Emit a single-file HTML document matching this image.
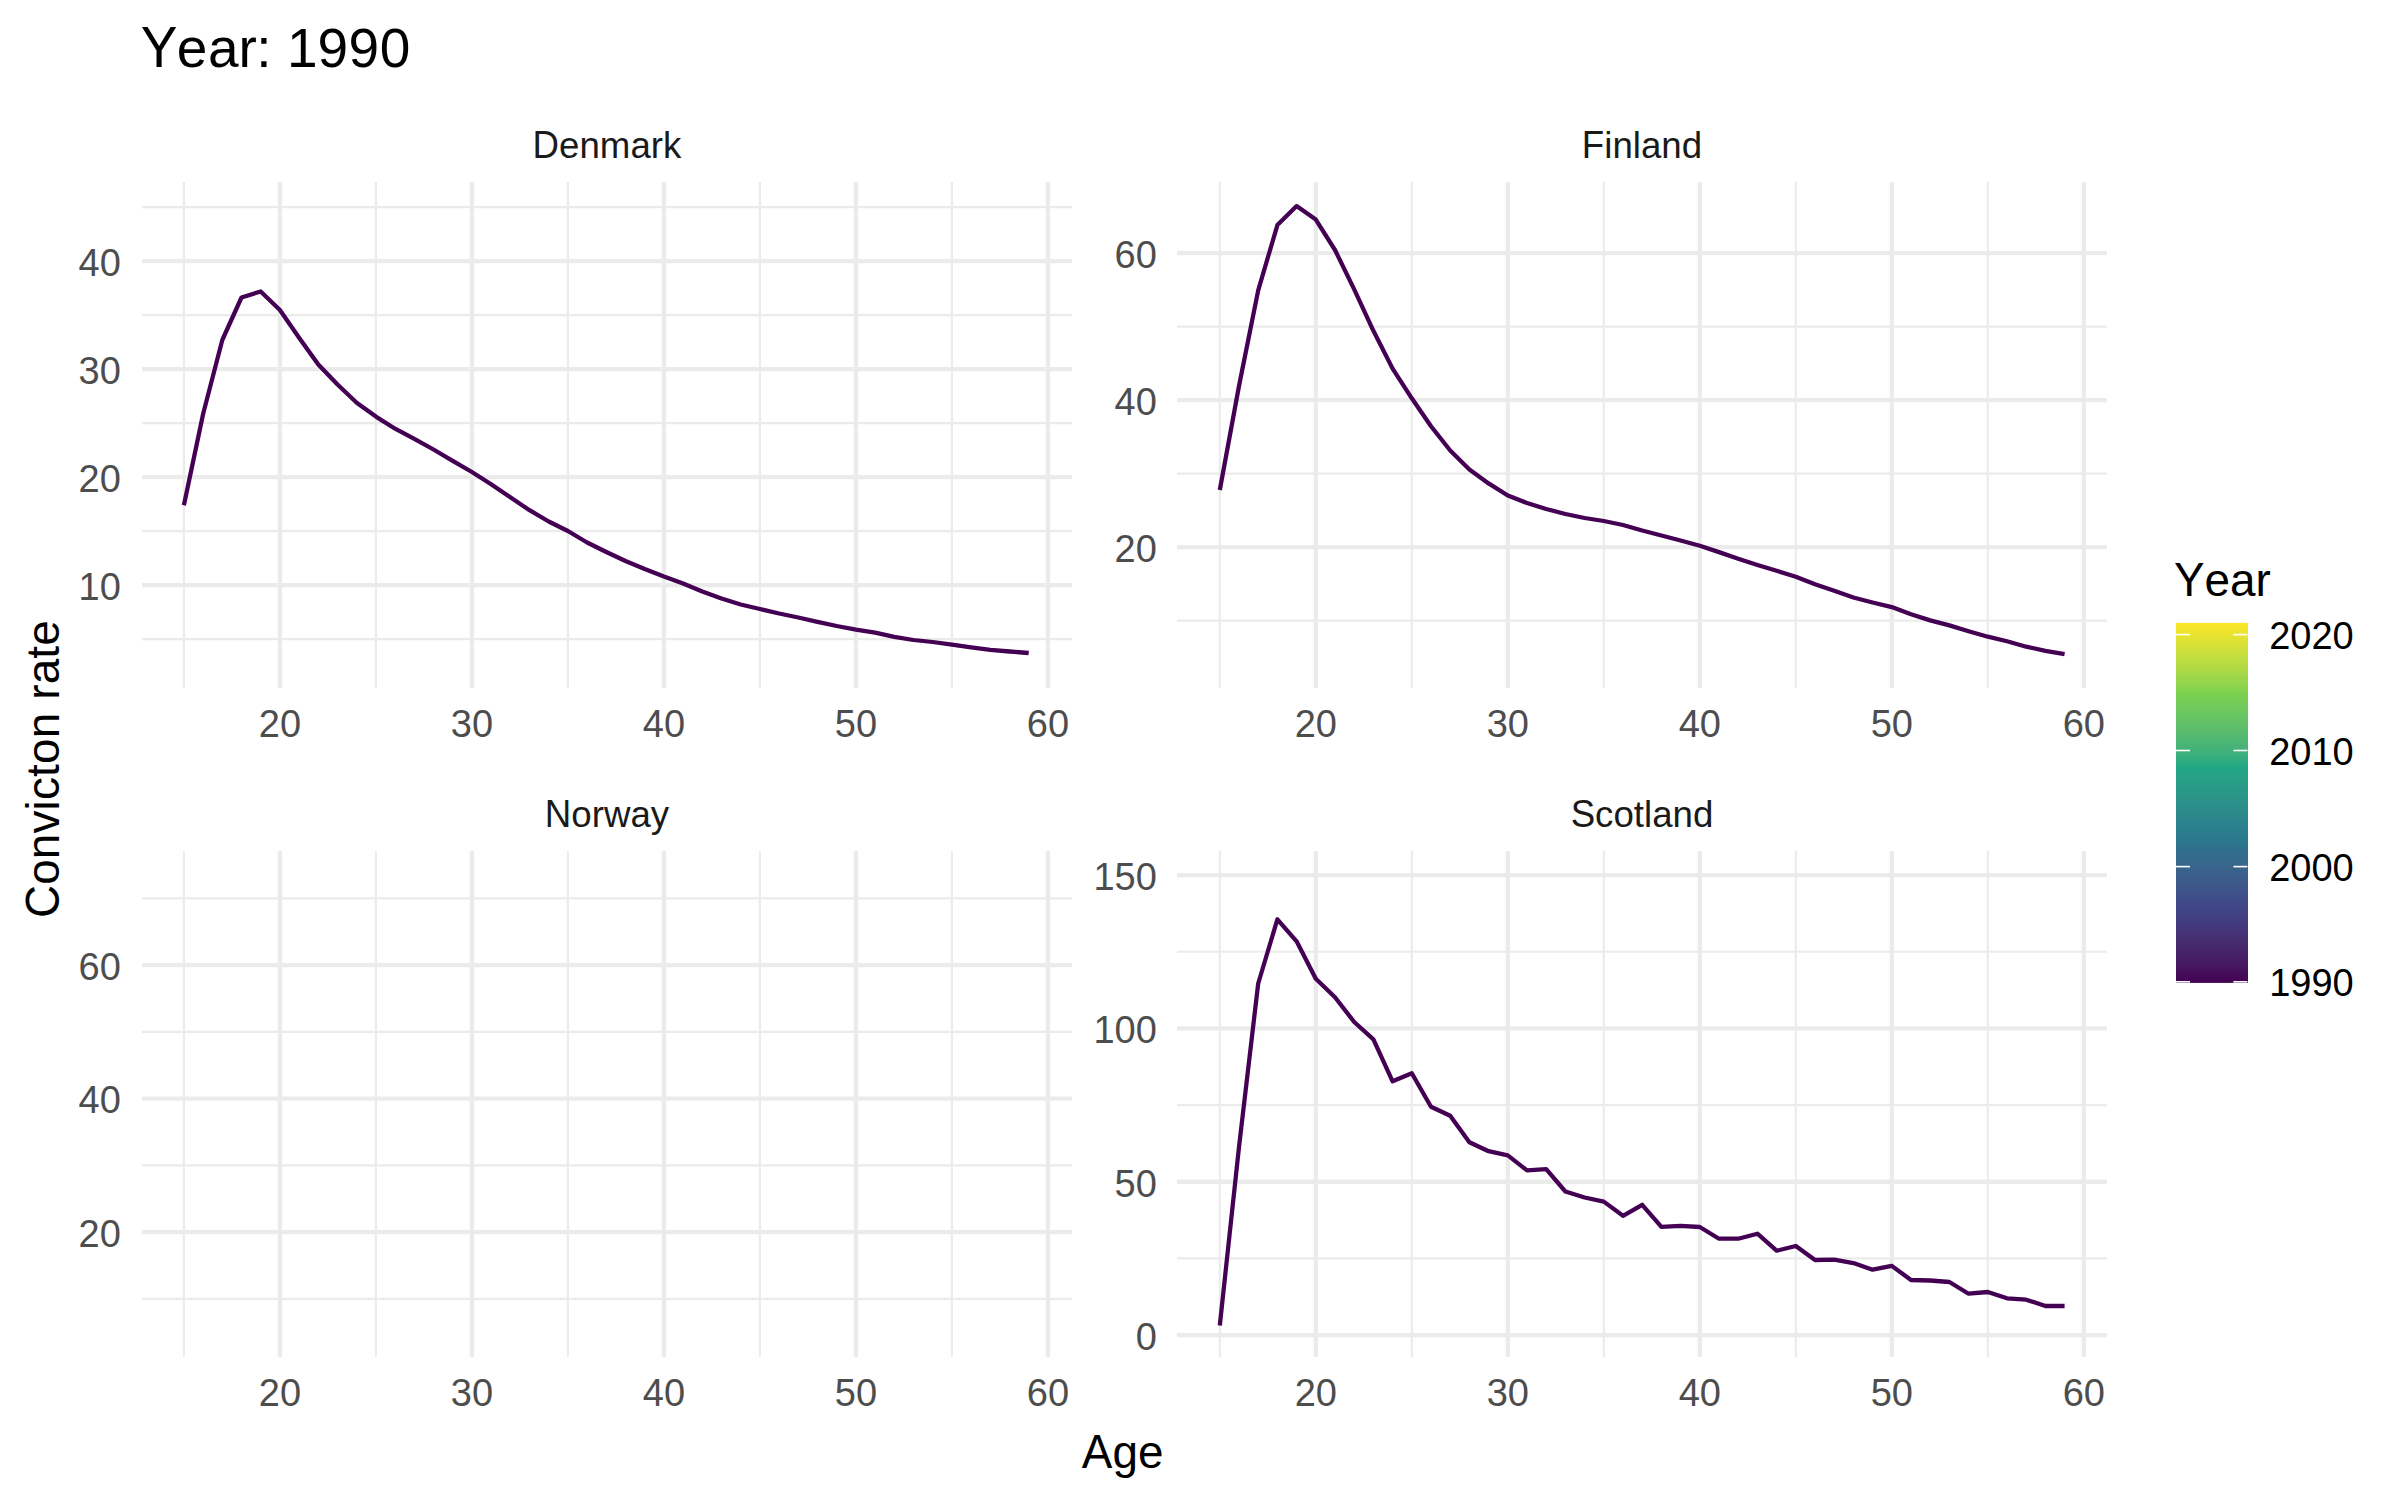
<!DOCTYPE html>
<html><head><meta charset="utf-8"><title>Year: 1990</title>
<style>html,body{margin:0;padding:0;background:#fff;}body{width:2400px;height:1500px;overflow:hidden;}svg{display:block;}text{font-family:"Liberation Sans",sans-serif;font-kerning:none;}.ax{font-size:38px;fill:#4D4D4D;}.st{font-size:36.67px;fill:#1A1A1A;}.lg{font-size:38px;fill:#000;}.tt{font-size:45.83px;fill:#000;}.ti{font-size:55px;fill:#000;}</style></head><body>
<svg width="2400" height="1500" viewBox="0 0 2400 1500">
<defs><linearGradient id="vir" x1="0" y1="1" x2="0" y2="0"><stop offset="0" stop-color="#440154"/><stop offset="0.01667" stop-color="#450958"/><stop offset="0.03333" stop-color="#45115C"/><stop offset="0.05" stop-color="#451860"/><stop offset="0.06667" stop-color="#461E65"/><stop offset="0.08333" stop-color="#462369"/><stop offset="0.1" stop-color="#46286D"/><stop offset="0.1167" stop-color="#452D71"/><stop offset="0.1333" stop-color="#453276"/><stop offset="0.15" stop-color="#44367A"/><stop offset="0.1667" stop-color="#433B7E"/><stop offset="0.1833" stop-color="#423F83"/><stop offset="0.2" stop-color="#414487"/><stop offset="0.2167" stop-color="#404888"/><stop offset="0.2333" stop-color="#404D88"/><stop offset="0.25" stop-color="#3F5189"/><stop offset="0.2667" stop-color="#3E568A"/><stop offset="0.2833" stop-color="#3C5A8A"/><stop offset="0.3" stop-color="#3B5E8B"/><stop offset="0.3167" stop-color="#39638B"/><stop offset="0.3333" stop-color="#37678C"/><stop offset="0.35" stop-color="#346B8C"/><stop offset="0.3667" stop-color="#316F8D"/><stop offset="0.3833" stop-color="#2E748D"/><stop offset="0.4" stop-color="#2A788E"/><stop offset="0.4167" stop-color="#2B7C8D"/><stop offset="0.4333" stop-color="#2B808D"/><stop offset="0.45" stop-color="#2C848C"/><stop offset="0.4667" stop-color="#2C888B"/><stop offset="0.4833" stop-color="#2B8C8A"/><stop offset="0.5" stop-color="#2B9089"/><stop offset="0.5167" stop-color="#2A9489"/><stop offset="0.5333" stop-color="#299888"/><stop offset="0.55" stop-color="#289C87"/><stop offset="0.5667" stop-color="#27A086"/><stop offset="0.5833" stop-color="#25A485"/><stop offset="0.6" stop-color="#22A884"/><stop offset="0.6167" stop-color="#30AB80"/><stop offset="0.6333" stop-color="#3BAF7D"/><stop offset="0.65" stop-color="#44B279"/><stop offset="0.6667" stop-color="#4CB575"/><stop offset="0.6833" stop-color="#53B971"/><stop offset="0.7" stop-color="#5ABC6D"/><stop offset="0.7167" stop-color="#60C069"/><stop offset="0.7333" stop-color="#66C364"/><stop offset="0.75" stop-color="#6BC760"/><stop offset="0.7667" stop-color="#70CA5B"/><stop offset="0.7833" stop-color="#75CD56"/><stop offset="0.8" stop-color="#7AD151"/><stop offset="0.8167" stop-color="#87D34E"/><stop offset="0.8333" stop-color="#93D54C"/><stop offset="0.85" stop-color="#9FD749"/><stop offset="0.8667" stop-color="#ABD946"/><stop offset="0.8833" stop-color="#B6DB43"/><stop offset="0.9" stop-color="#C0DD40"/><stop offset="0.9167" stop-color="#CBDF3C"/><stop offset="0.9333" stop-color="#D5E038"/><stop offset="0.95" stop-color="#DFE234"/><stop offset="0.9667" stop-color="#E9E430"/><stop offset="0.9833" stop-color="#F3E52B"/><stop offset="1" stop-color="#FDE725"/></linearGradient></defs>
<rect x="0" y="0" width="2400" height="1500" fill="#fff"/>
<g stroke="#EBEBEB" stroke-linecap="butt"><line x1="142" y1="639.1" x2="1072" y2="639.1" stroke-width="2.15"/><line x1="142" y1="531.1" x2="1072" y2="531.1" stroke-width="2.15"/><line x1="142" y1="423.1" x2="1072" y2="423.1" stroke-width="2.15"/><line x1="142" y1="315.1" x2="1072" y2="315.1" stroke-width="2.15"/><line x1="142" y1="207.1" x2="1072" y2="207.1" stroke-width="2.15"/><line x1="183.9" y1="182" x2="183.9" y2="688" stroke-width="2.15"/><line x1="375.9" y1="182" x2="375.9" y2="688" stroke-width="2.15"/><line x1="567.9" y1="182" x2="567.9" y2="688" stroke-width="2.15"/><line x1="759.9" y1="182" x2="759.9" y2="688" stroke-width="2.15"/><line x1="951.9" y1="182" x2="951.9" y2="688" stroke-width="2.15"/><line x1="142" y1="585.1" x2="1072" y2="585.1" stroke-width="4.3"/><line x1="142" y1="477.1" x2="1072" y2="477.1" stroke-width="4.3"/><line x1="142" y1="369.1" x2="1072" y2="369.1" stroke-width="4.3"/><line x1="142" y1="261.1" x2="1072" y2="261.1" stroke-width="4.3"/><line x1="279.9" y1="182" x2="279.9" y2="688" stroke-width="4.3"/><line x1="471.9" y1="182" x2="471.9" y2="688" stroke-width="4.3"/><line x1="663.9" y1="182" x2="663.9" y2="688" stroke-width="4.3"/><line x1="855.9" y1="182" x2="855.9" y2="688" stroke-width="4.3"/><line x1="1047.9" y1="182" x2="1047.9" y2="688" stroke-width="4.3"/></g>
<g stroke="#EBEBEB" stroke-linecap="butt"><line x1="1177" y1="620.6" x2="2107" y2="620.6" stroke-width="2.15"/><line x1="1177" y1="473.6" x2="2107" y2="473.6" stroke-width="2.15"/><line x1="1177" y1="326.6" x2="2107" y2="326.6" stroke-width="2.15"/><line x1="1219.8" y1="182" x2="1219.8" y2="688" stroke-width="2.15"/><line x1="1411.8" y1="182" x2="1411.8" y2="688" stroke-width="2.15"/><line x1="1603.8" y1="182" x2="1603.8" y2="688" stroke-width="2.15"/><line x1="1795.8" y1="182" x2="1795.8" y2="688" stroke-width="2.15"/><line x1="1987.8" y1="182" x2="1987.8" y2="688" stroke-width="2.15"/><line x1="1177" y1="547.1" x2="2107" y2="547.1" stroke-width="4.3"/><line x1="1177" y1="400.1" x2="2107" y2="400.1" stroke-width="4.3"/><line x1="1177" y1="253.1" x2="2107" y2="253.1" stroke-width="4.3"/><line x1="1315.8" y1="182" x2="1315.8" y2="688" stroke-width="4.3"/><line x1="1507.8" y1="182" x2="1507.8" y2="688" stroke-width="4.3"/><line x1="1699.8" y1="182" x2="1699.8" y2="688" stroke-width="4.3"/><line x1="1891.8" y1="182" x2="1891.8" y2="688" stroke-width="4.3"/><line x1="2083.8" y1="182" x2="2083.8" y2="688" stroke-width="4.3"/></g>
<g stroke="#EBEBEB" stroke-linecap="butt"><line x1="142" y1="1298.85" x2="1072" y2="1298.85" stroke-width="2.15"/><line x1="142" y1="1165.35" x2="1072" y2="1165.35" stroke-width="2.15"/><line x1="142" y1="1031.85" x2="1072" y2="1031.85" stroke-width="2.15"/><line x1="142" y1="898.35" x2="1072" y2="898.35" stroke-width="2.15"/><line x1="183.9" y1="851" x2="183.9" y2="1357" stroke-width="2.15"/><line x1="375.9" y1="851" x2="375.9" y2="1357" stroke-width="2.15"/><line x1="567.9" y1="851" x2="567.9" y2="1357" stroke-width="2.15"/><line x1="759.9" y1="851" x2="759.9" y2="1357" stroke-width="2.15"/><line x1="951.9" y1="851" x2="951.9" y2="1357" stroke-width="2.15"/><line x1="142" y1="1232.1" x2="1072" y2="1232.1" stroke-width="4.3"/><line x1="142" y1="1098.6" x2="1072" y2="1098.6" stroke-width="4.3"/><line x1="142" y1="965.1" x2="1072" y2="965.1" stroke-width="4.3"/><line x1="279.9" y1="851" x2="279.9" y2="1357" stroke-width="4.3"/><line x1="471.9" y1="851" x2="471.9" y2="1357" stroke-width="4.3"/><line x1="663.9" y1="851" x2="663.9" y2="1357" stroke-width="4.3"/><line x1="855.9" y1="851" x2="855.9" y2="1357" stroke-width="4.3"/><line x1="1047.9" y1="851" x2="1047.9" y2="1357" stroke-width="4.3"/></g>
<g stroke="#EBEBEB" stroke-linecap="butt"><line x1="1177" y1="1258.43" x2="2107" y2="1258.43" stroke-width="2.15"/><line x1="1177" y1="1105.1" x2="2107" y2="1105.1" stroke-width="2.15"/><line x1="1177" y1="951.77" x2="2107" y2="951.77" stroke-width="2.15"/><line x1="1219.8" y1="851" x2="1219.8" y2="1357" stroke-width="2.15"/><line x1="1411.8" y1="851" x2="1411.8" y2="1357" stroke-width="2.15"/><line x1="1603.8" y1="851" x2="1603.8" y2="1357" stroke-width="2.15"/><line x1="1795.8" y1="851" x2="1795.8" y2="1357" stroke-width="2.15"/><line x1="1987.8" y1="851" x2="1987.8" y2="1357" stroke-width="2.15"/><line x1="1177" y1="1335.1" x2="2107" y2="1335.1" stroke-width="4.3"/><line x1="1177" y1="1181.77" x2="2107" y2="1181.77" stroke-width="4.3"/><line x1="1177" y1="1028.43" x2="2107" y2="1028.43" stroke-width="4.3"/><line x1="1177" y1="875.1" x2="2107" y2="875.1" stroke-width="4.3"/><line x1="1315.8" y1="851" x2="1315.8" y2="1357" stroke-width="4.3"/><line x1="1507.8" y1="851" x2="1507.8" y2="1357" stroke-width="4.3"/><line x1="1699.8" y1="851" x2="1699.8" y2="1357" stroke-width="4.3"/><line x1="1891.8" y1="851" x2="1891.8" y2="1357" stroke-width="4.3"/><line x1="2083.8" y1="851" x2="2083.8" y2="1357" stroke-width="4.3"/></g>
<polyline points="183.9,505.2 203.1,414 222.3,340 241.5,297.5 260.7,291.5 279.9,310 299.1,337.7 318.3,364.5 337.5,384.5 356.7,402.7 375.9,416.6 395.1,428.7 414.3,438.8 433.5,449.5 452.7,460.8 471.9,472 491.1,484.2 510.3,497.2 529.5,510.2 548.7,521.5 567.9,531 587.1,542.5 606.3,552 625.5,561 644.7,569 663.9,576.5 683.1,583.5 702.3,591.5 721.5,598.5 740.7,604.5 759.9,609 779.1,613.5 798.3,617.5 817.5,621.8 836.7,626 855.9,629.6 875.1,632.7 894.3,636.9 913.5,640 932.7,642 951.9,644.7 971.1,647.3 990.3,649.9 1009.5,651.5 1028.7,653" fill="none" stroke="#440154" stroke-width="4.27" stroke-linejoin="round" stroke-linecap="butt"/>
<polyline points="1219.8,490 1239,386 1258.2,290.3 1277.4,225.1 1296.6,206.1 1315.8,219.6 1335,250 1354.2,289.4 1373.4,330.8 1392.6,368.6 1411.8,398.3 1431,426.2 1450.2,450.5 1469.4,469.4 1488.6,483.4 1507.8,495.5 1527,503 1546.2,509 1565.4,514 1584.6,518 1603.8,521 1623,525 1642.2,530.5 1661.4,535.5 1680.6,540.5 1699.8,545.8 1719,552.1 1738.2,558.75 1757.4,565 1776.6,570.8 1795.8,576.7 1815,584.2 1834.2,590.8 1853.4,597.5 1872.6,602.5 1891.8,607.1 1911,614.2 1930.2,620.4 1949.4,625.4 1968.6,631.25 1987.8,636.7 2007,641.25 2026.2,646.7 2045.4,650.8 2064.6,654.2" fill="none" stroke="#440154" stroke-width="4.27" stroke-linejoin="round" stroke-linecap="butt"/>
<polyline points="1219.8,1325.4 1239,1147 1258.2,983.5 1277.4,919.3 1296.6,941.3 1315.8,978.7 1335,997.3 1354.2,1022 1373.4,1039.3 1392.6,1081.3 1411.8,1073.3 1431,1106.8 1450.2,1115.8 1469.4,1142.2 1488.6,1151.2 1507.8,1155.4 1527,1170.4 1546.2,1169.2 1565.4,1191.5 1584.6,1197.5 1603.8,1201.6 1623,1215.8 1642.2,1204.8 1661.4,1226.8 1680.6,1225.9 1699.8,1227 1719,1238.7 1738.2,1238.7 1757.4,1233.7 1776.6,1250.7 1795.8,1246 1815,1260 1834.2,1259.7 1853.4,1263.1 1872.6,1269.7 1891.8,1265.9 1911,1280 1930.2,1280.5 1949.4,1282 1968.6,1293.7 1987.8,1292 2007,1298.3 2026.2,1299.7 2045.4,1306 2064.6,1306" fill="none" stroke="#440154" stroke-width="4.27" stroke-linejoin="round" stroke-linecap="butt"/>
<text class="ti" transform="translate(140.8 66.9) scale(1 1.04)">Y</text>
<text class="ti" x="176.66 207.9 238.6 256.2 271.5 287 317.6 348.5 379.85" y="66.9">ear: 1990</text>
<text class="st" transform="translate(532.62 157.9) scale(1 1.04)">D</text><text class="st" x="559.1" y="157.9">enmark</text>
<text class="st" transform="translate(1581.87 157.9) scale(1 1.04)">F</text><text class="st" x="1604.26" y="157.9">inland</text>
<text class="st" transform="translate(544.85 826.9) scale(1 1.04)">N</text><text class="st" x="571.33" y="826.9">orway</text>
<text class="st" transform="translate(1570.65 826.9) scale(1 1.04)">S</text><text class="st" x="1595.11" y="826.9">cotland</text>
<text class="ax" x="120.8" y="599.9" text-anchor="end">10</text>
<text class="ax" x="120.8" y="491.9" text-anchor="end">20</text>
<text class="ax" x="120.8" y="383.9" text-anchor="end">30</text>
<text class="ax" x="120.8" y="275.9" text-anchor="end">40</text>
<text class="ax" x="1156.9" y="561.9" text-anchor="end">20</text>
<text class="ax" x="1156.9" y="414.9" text-anchor="end">40</text>
<text class="ax" x="1156.9" y="267.9" text-anchor="end">60</text>
<text class="ax" x="120.8" y="1246.9" text-anchor="end">20</text>
<text class="ax" x="120.8" y="1113.4" text-anchor="end">40</text>
<text class="ax" x="120.8" y="979.9" text-anchor="end">60</text>
<text class="ax" x="1156.9" y="1349.9" text-anchor="end">0</text>
<text class="ax" x="1156.9" y="1196.57" text-anchor="end">50</text>
<text class="ax" x="1156.9" y="1043.23" text-anchor="end">100</text>
<text class="ax" x="1156.9" y="889.9" text-anchor="end">150</text>
<text class="ax" x="279.9" y="737" text-anchor="middle">20</text>
<text class="ax" x="471.9" y="737" text-anchor="middle">30</text>
<text class="ax" x="663.9" y="737" text-anchor="middle">40</text>
<text class="ax" x="855.9" y="737" text-anchor="middle">50</text>
<text class="ax" x="1047.9" y="737" text-anchor="middle">60</text>
<text class="ax" x="1315.8" y="737" text-anchor="middle">20</text>
<text class="ax" x="1507.8" y="737" text-anchor="middle">30</text>
<text class="ax" x="1699.8" y="737" text-anchor="middle">40</text>
<text class="ax" x="1891.8" y="737" text-anchor="middle">50</text>
<text class="ax" x="2083.8" y="737" text-anchor="middle">60</text>
<text class="ax" x="279.9" y="1406.4" text-anchor="middle">20</text>
<text class="ax" x="471.9" y="1406.4" text-anchor="middle">30</text>
<text class="ax" x="663.9" y="1406.4" text-anchor="middle">40</text>
<text class="ax" x="855.9" y="1406.4" text-anchor="middle">50</text>
<text class="ax" x="1047.9" y="1406.4" text-anchor="middle">60</text>
<text class="ax" x="1315.8" y="1406.4" text-anchor="middle">20</text>
<text class="ax" x="1507.8" y="1406.4" text-anchor="middle">30</text>
<text class="ax" x="1699.8" y="1406.4" text-anchor="middle">40</text>
<text class="ax" x="1891.8" y="1406.4" text-anchor="middle">50</text>
<text class="ax" x="2083.8" y="1406.4" text-anchor="middle">60</text>
<text class="tt" transform="translate(1081.83 1467.8) scale(1 1.04)">A</text><text class="tt" x="1112.4" y="1467.8">ge</text>
<g transform="translate(59.4 768.7) rotate(-90)"><text class="tt" transform="translate(-149.42 0) scale(1 1.04)">C</text><text class="tt" x="-116.14" y="0" style="letter-spacing:0.18px">onvicton rate</text></g>
<text class="tt" transform="translate(2174 595.8) scale(1 1.04)">Y</text><text class="tt" x="2204.57" y="595.8">ear</text>
<rect x="2176" y="622.9" width="72" height="360" fill="url(#vir)"/>
<g stroke="#fff" stroke-width="1.6"><line x1="2176" y1="981.8" x2="2190" y2="981.8"/><line x1="2233.4" y1="981.8" x2="2247.4" y2="981.8"/><line x1="2176" y1="866.6" x2="2190" y2="866.6"/><line x1="2233.4" y1="866.6" x2="2247.4" y2="866.6"/><line x1="2176" y1="750.5" x2="2190" y2="750.5"/><line x1="2233.4" y1="750.5" x2="2247.4" y2="750.5"/><line x1="2176" y1="634.6" x2="2190" y2="634.6"/><line x1="2233.4" y1="634.6" x2="2247.4" y2="634.6"/></g>
<text class="lg" x="2269.2" y="995.9">1990</text>
<text class="lg" x="2269.2" y="880.7">2000</text>
<text class="lg" x="2269.2" y="764.6">2010</text>
<text class="lg" x="2269.2" y="648.7">2020</text>
</svg></body></html>
